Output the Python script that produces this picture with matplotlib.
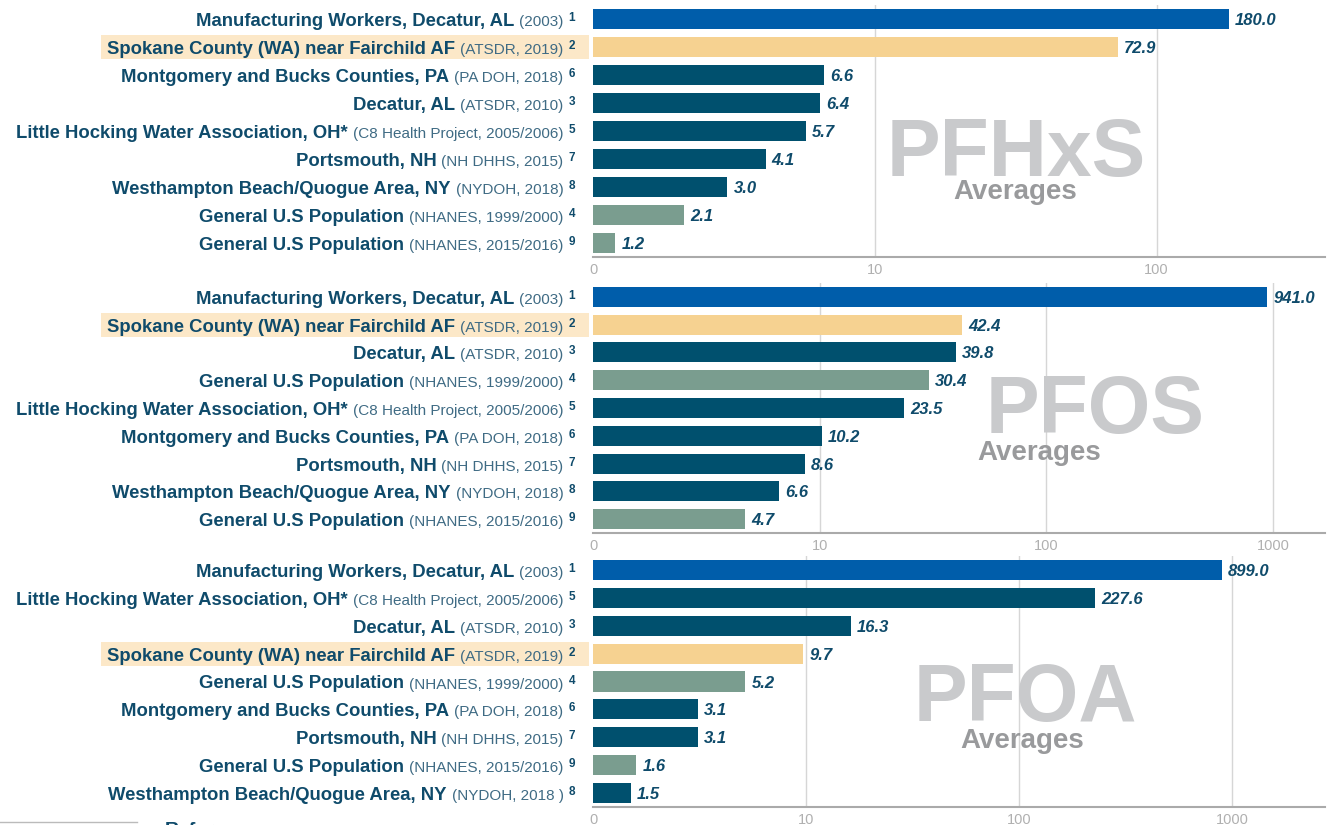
import matplotlib.pyplot as plt
from matplotlib.patches import Rectangle
from matplotlib.lines import Line2D

W, H = 1336, 825

# ---- PFHxS ----
pfhxs_names = ["Manufacturing Workers, Decatur, AL", "Spokane County (WA) near Fairchild AF",
               "Montgomery and Bucks Counties, PA", "Decatur, AL",
               "Little Hocking Water Association, OH*", "Portsmouth, NH",
               "Westhampton Beach/Quogue Area, NY", "General U.S Population", "General U.S Population"]
pfhxs_sources = ["(2003)", "(ATSDR, 2019)", "(PA DOH, 2018)", "(ATSDR, 2010)",
                 "(C8 Health Project, 2005/2006)", "(NH DHHS, 2015)", "(NYDOH, 2018)",
                 "(NHANES, 1999/2000)", "(NHANES, 2015/2016)"]
pfhxs_refs = ["1", "2", "6", "3", "5", "7", "8", "4", "9"]
pfhxs_groups = ["worker", "spokane", "community", "community", "community", "community",
                "community", "general", "general"]
pfhxs_values = [180.0, 72.9, 6.6, 6.4, 5.7, 4.1, 3.0, 2.1, 1.2]

# ---- PFOS ----
pfos_names = ["Manufacturing Workers, Decatur, AL", "Spokane County (WA) near Fairchild AF",
              "Decatur, AL", "General U.S Population", "Little Hocking Water Association, OH*",
              "Montgomery and Bucks Counties, PA", "Portsmouth, NH",
              "Westhampton Beach/Quogue Area, NY", "General U.S Population"]
pfos_sources = ["(2003)", "(ATSDR, 2019)", "(ATSDR, 2010)", "(NHANES, 1999/2000)",
                "(C8 Health Project, 2005/2006)", "(PA DOH, 2018)", "(NH DHHS, 2015)",
                "(NYDOH, 2018)", "(NHANES, 2015/2016)"]
pfos_refs = ["1", "2", "3", "4", "5", "6", "7", "8", "9"]
pfos_groups = ["worker", "spokane", "community", "general", "community", "community",
               "community", "community", "general"]
pfos_values = [941.0, 42.4, 39.8, 30.4, 23.5, 10.2, 8.6, 6.6, 4.7]

# ---- PFOA ----
pfoa_names = ["Manufacturing Workers, Decatur, AL", "Little Hocking Water Association, OH*",
              "Decatur, AL", "Spokane County (WA) near Fairchild AF", "General U.S Population",
              "Montgomery and Bucks Counties, PA", "Portsmouth, NH", "General U.S Population",
              "Westhampton Beach/Quogue Area, NY"]
pfoa_sources = ["(2003)", "(C8 Health Project, 2005/2006)", "(ATSDR, 2010)", "(ATSDR, 2019)",
                "(NHANES, 1999/2000)", "(PA DOH, 2018)", "(NH DHHS, 2015)",
                "(NHANES, 2015/2016)", "(NYDOH, 2018 )"]
pfoa_refs = ["1", "5", "3", "2", "4", "6", "7", "9", "8"]
pfoa_groups = ["worker", "community", "community", "spokane", "general", "community",
               "community", "general", "community"]
pfoa_values = [899.0, 227.6, 16.3, 9.7, 5.2, 3.1, 3.1, 1.6, 1.5]

tick_vals = [1, 10, 100, 1000]
tick_labels = ["0", "10", "100", "1000"]

colors = {"worker": "#005DAA", "spokane": "#F6D291",
          "community": "#00506E", "general": "#7A9D8F"}
text_dark = "#0F4B6B"
src_col = "#3F6B84"
highlight = "#FCE8C8"

FONT = "Liberation Sans"
plt.rcParams["font.family"] = [FONT, "DejaVu Sans"]

fig = plt.figure(figsize=(W / 100, H / 100), dpi=100)
fig.patch.set_facecolor("white")

# panel geometry (pixels from top): top, bottom, x-max of log axis
left_px, right_px = 593, 1325
panels = [
    (pfhxs_names, pfhxs_sources, pfhxs_refs, pfhxs_groups, pfhxs_values, 4.9, 257, 396,
     "PFHxS", (1016, 176), (1015, 199)),
    (pfos_names, pfos_sources, pfos_refs, pfos_groups, pfos_values, 283, 533, 1694,
     "PFOS", (1095, 433), (1039, 460)),
    (pfoa_names, pfoa_sources, pfoa_refs, pfoa_groups, pfoa_values, 556, 807, 2735,
     "PFOA", (1025, 721), (1022, 748)),
]

renderer = fig.canvas.get_renderer()

for names, sources, refs, groups, values, top, bot, xmax, title, tpos, apos in panels:
    ax = fig.add_axes([left_px / W, 1 - bot / H, (right_px - left_px) / W, (bot - top) / H])
    ax.set_xscale("log")
    ax.set_xlim(1, xmax)
    ax.set_ylim(8.5, -0.5)
    ys = list(range(len(values)))
    ax.barh(ys, [v - 1 for v in values], height=0.72, left=1,
            color=[colors[g] for g in groups], zorder=3)
    for y, v in zip(ys, values):
        ax.annotate(f"{v:.1f}", (v, y), xytext=(6, 0), textcoords="offset pixels",
                    va="center_baseline", ha="left", fontsize=12, fontstyle="italic",
                    fontweight="bold", color=text_dark, zorder=4)

    ticks = [t for t in tick_vals if t <= xmax]
    ax.set_xticks(ticks)
    ax.set_xticklabels(tick_labels[:len(ticks)])
    ax.xaxis.set_minor_locator(plt.NullLocator())
    ax.tick_params(axis="x", length=0, pad=4.5, labelsize=10.5, labelcolor="#B0B0B0")
    ax.set_yticks([])
    for s in ["top", "right", "left"]:
        ax.spines[s].set_visible(False)
    ax.spines["bottom"].set_color("#AAAAAA")
    ax.spines["bottom"].set_linewidth(1.5)
    for t in ticks[1:]:
        ax.axvline(t, color="#D6D6D6", lw=1, zorder=1)
    ax.set_facecolor("none")

    # watermark: above the grid, below the bars
    ax.text(tpos[0] / W, 1 - tpos[1] / H, title, transform=fig.transFigure,
            ha="center", va="baseline", fontsize=58, fontweight="bold",
            color="#C9CACC", zorder=2)
    ax.text(apos[0] / W, 1 - apos[1] / H, "Averages", transform=fig.transFigure,
            ha="center", va="baseline", fontsize=20, fontweight="bold",
            color="#999A9C", zorder=2)

    # row labels built right-to-left
    for y, name, src, ref, grp in zip(ys, names, sources, refs, groups):
        cy = ax.transData.transform((1, y))[1]
        base = cy - 7
        x = 575
        t = fig.text(x / W, (base + 5) / H, ref, ha="right", va="baseline",
                     fontsize=8.5, fontweight="bold", color=text_dark, zorder=5)
        x -= t.get_window_extent(renderer).width + 5
        t = fig.text(x / W, base / H, src, ha="right", va="baseline",
                     fontsize=11, color=src_col, zorder=5)
        x -= t.get_window_extent(renderer).width + 5
        t = fig.text(x / W, base / H, name, ha="right", va="baseline",
                     fontsize=13.3, fontweight="bold", color=text_dark, zorder=5)
        x -= t.get_window_extent(renderer).width
        if grp == "spokane":
            fig.patches.append(Rectangle(((x - 6) / W, (cy - 12) / H), (589 - x + 6) / W, 24 / H,
                                         transform=fig.transFigure, facecolor=highlight,
                                         edgecolor="none", zorder=-1))

# cut-off footer at the bottom edge
fig.add_artist(Line2D([0, 137 / W], [3 / H, 3 / H], color="#BBBBBB", lw=1))
fig.text(165 / W, 3 / H, "References", ha="left", va="top", fontsize=14,
         fontweight="bold", color=text_dark)

fig.savefig("out.png", dpi=100)
